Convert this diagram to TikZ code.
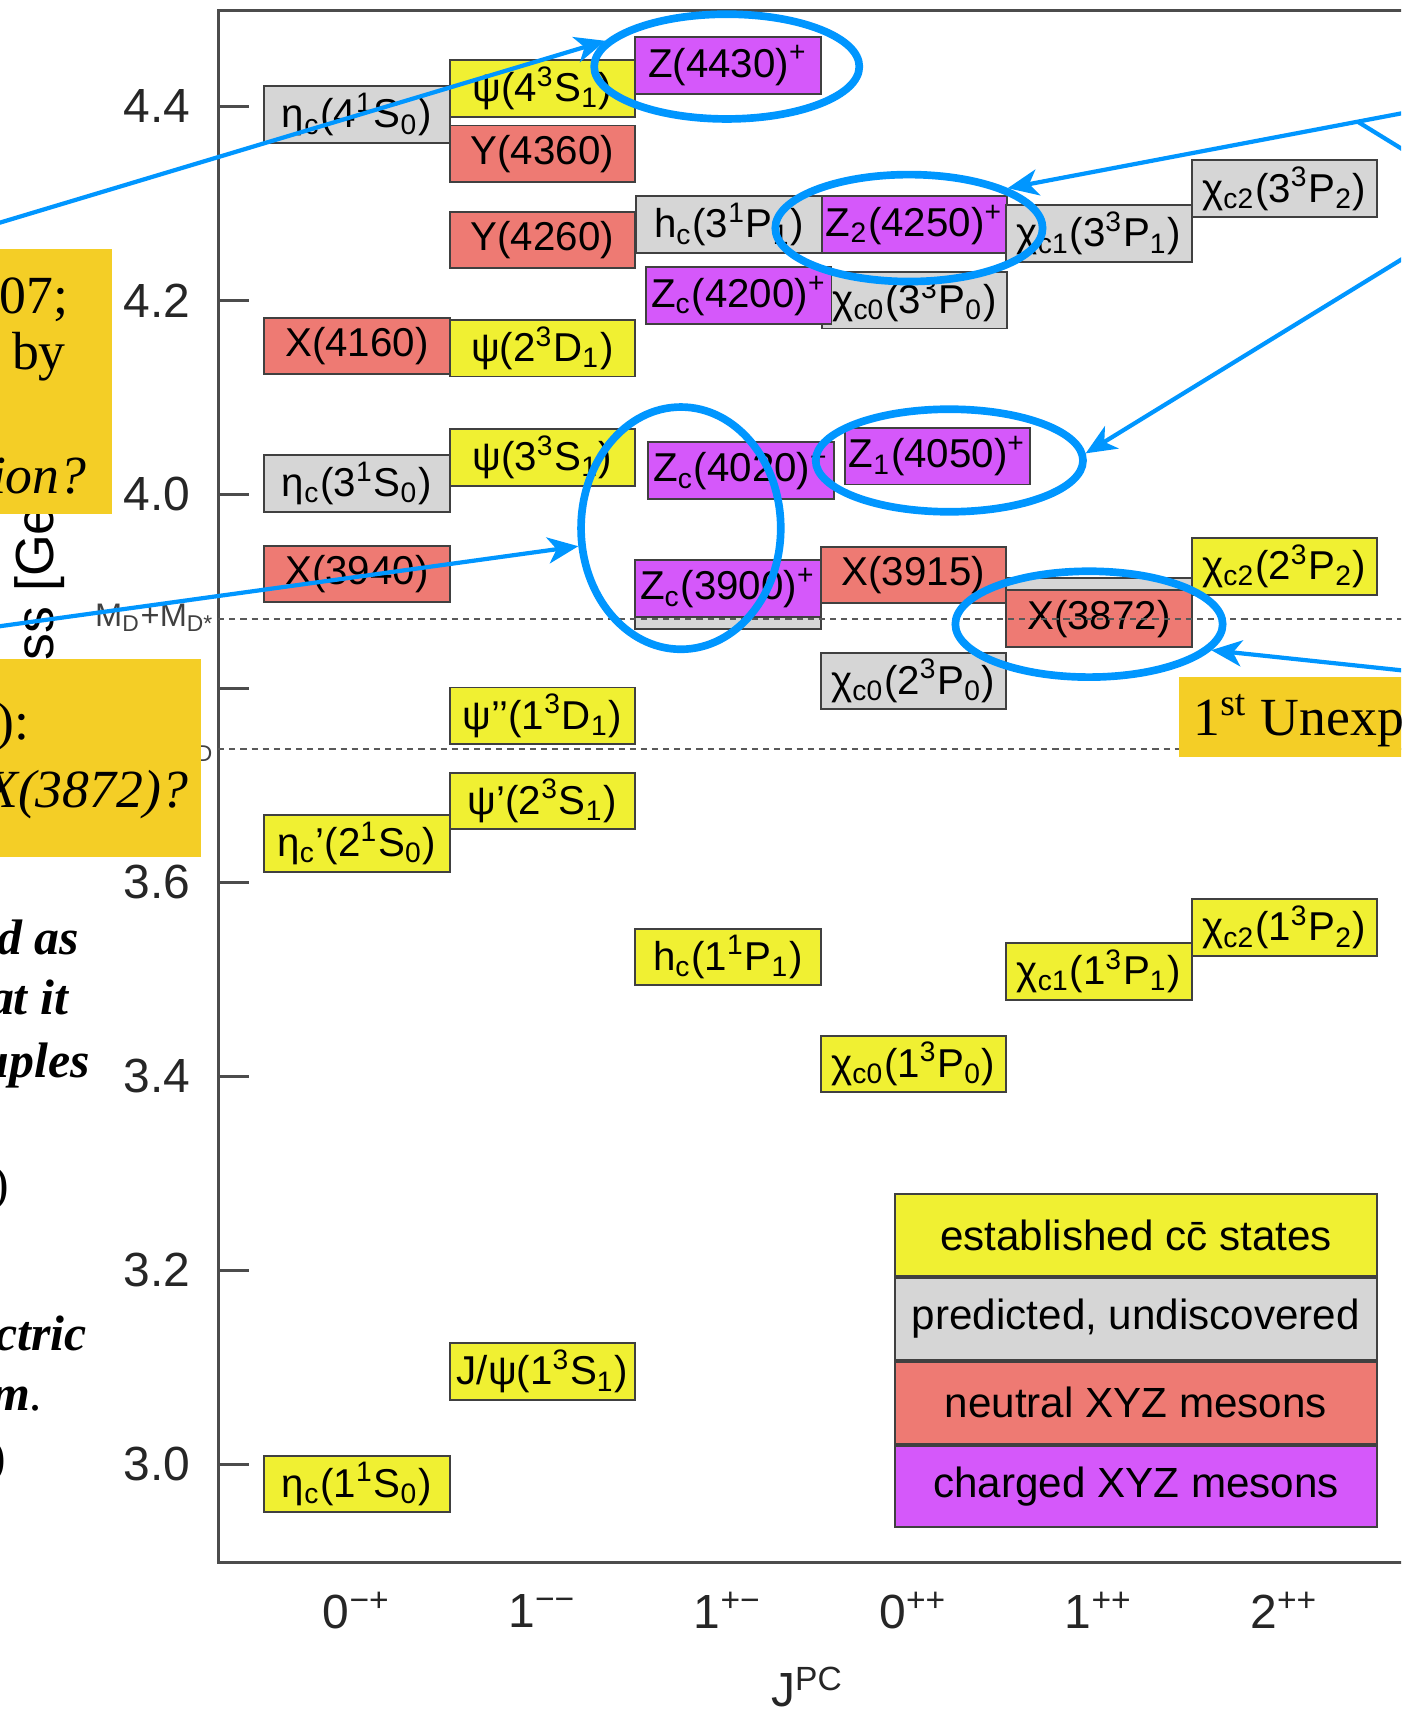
\documentclass[tikz,border=0pt]{standalone}
\usepackage{fontspec}
\setmainfont{Liberation Sans}
\newfontfamily\tnr{Liberation Serif}
\usetikzlibrary{shapes.geometric,arrows.meta,positioning}

\definecolor{estc}{RGB}{240,240,50}
\definecolor{predc}{RGB}{214,214,214}
\definecolor{neutc}{RGB}{238,122,115}
\definecolor{chargc}{RGB}{213,88,250}
\definecolor{notec}{RGB}{244,206,38}
\definecolor{ringc}{RGB}{0,150,255}

\newcommand{\supc}[1]{\textsuperscript{#1}}
\newcommand{\subc}[1]{\textsubscript{#1}}

\tikzset{
  meson/.style={draw=black!75, line width=0.5pt, minimum width=17mm, minimum height=5.2mm,
    inner sep=0pt, font=\fontsize{10.5}{12}\selectfont},
  est/.style={meson, fill=estc},
  pred/.style={meson, fill=predc},
  neut/.style={meson, fill=neutc},
  charg/.style={meson, fill=chargc},
  legbox/.style={draw=black!75, line width=0.5pt, minimum width=44.2mm, minimum height=7.5mm,
    inner sep=0pt, font=\fontsize{11}{13}\selectfont},
  frame/.style={draw=black!70, line width=0.8pt},
  ticklabel/.style={text=black!85, inner sep=0pt, font=\fontsize{12.5}{14}\selectfont},
  dotline/.style={draw=black!65, line width=0.5pt, dash pattern=on 1.6pt off 1.3pt},
  thrlabel/.style={text=black!75, inner sep=0pt, font=\fontsize{8.5}{10}\selectfont},
  ring/.style={ellipse, draw=ringc, line width=2pt, inner sep=0pt},
  wire/.style={draw=ringc, line width=1.1pt},
  pointer/.style={wire, -{Stealth[length=2.8mm, width=2.4mm, inset=0.8mm]}},
  notebox/.style={fill=notec},
  notetext/.style={inner sep=0pt, font=\tnr\fontsize{14}{17}\selectfont},
  sidetext/.style={inner sep=0pt, font=\tnr\bfseries\itshape\fontsize{13}{16}\selectfont},
}

\begin{document}
\begin{tikzpicture}[x=0.1mm, y=-0.1mm]
    % Page
    \useasboundingbox (0,0) rectangle (1284,1568);
    \clip (0,0) rectangle (1284,1568);
    \fill[white] (0,0) rectangle (1284,1568);

    % Axes
    \node[rotate=90, font=\fontsize{14}{16}\selectfont] (masstitle) at (36,545) {Mass [GeV]};
    \draw[frame] (1300,10) -- (200,10) -- (200,1432) -- (1300,1432);
    \foreach \m [count=\i] in {3.0,3.2,3.4,3.6,3.8,4.0,4.2,4.4} {
        \pgfmathsetmacro{\ypos}{1342-(\m-3)*889}
        \draw[frame] (200,\ypos) -- (228,\ypos);
        \node[ticklabel, anchor=east] (tick\i) at (175,\ypos) {\m};
    }

    % States, column 0-+
    \node[pred] (etacD) at (327,105) {η\subc{c}(4\supc{1}S\subc{0})};
    \node[neut] (xA) at (327,317) {X(4160)};
    \node[pred] (etacC) at (327,443) {η\subc{c}(3\supc{1}S\subc{0})};
    \node[neut] (xB) at (327,526) {X(3940)};
    \node[est] (etacB) at (327,773) {η\subc{c}’(2\supc{1}S\subc{0})};
    \node[est] (etacA) at (327,1360) {η\subc{c}(1\supc{1}S\subc{0})};

    % States, column 1--
    \node[est] (psiD) at (497,81) {ψ(4\supc{3}S\subc{1})};
    \node[neut] (yB) at (497,141) {Y(4360)};
    \node[neut] (yA) at (497,220) {Y(4260)};
    \node[est] (psiE) at (497,319) {ψ(2\supc{3}D\subc{1})};
    \node[est] (psiC) at (497,419) {ψ(3\supc{3}S\subc{1})};
    \node[est] (psiF) at (497,656) {ψ’’(1\supc{3}D\subc{1})};
    \node[est] (psiB) at (497,734) {ψ’(2\supc{3}S\subc{1})};
    \node[est] (jpsi) at (497,1257) {J/ψ(1\supc{3}S\subc{1})};

    % States, column 1+- and 0++
    \node[charg] (zE) at (667,60) {Z(4430)\supc{+}};
    \node[pred] (hcC) at (668,206) {h\subc{c}(3\supc{1}P\subc{1})};
    \node[charg] (zD) at (838,206) {Z\subc{2}(4250)\supc{+}};
    \node[pred] (chizC) at (838,275) {χ\subc{c0}(3\supc{3}P\subc{0})};
    \node[charg] (zC) at (677,271) {Z\subc{c}(4200)\supc{+}};
    \node[charg] (zB) at (679,431) {Z\subc{c}(4020)\supc{+}};
    \node[charg] (zF) at (859,418) {Z\subc{1}(4050)\supc{+}};
    \node[pred] (hcB) at (667,550) {};
    \node[charg] (zA) at (667,539) {Z\subc{c}(3900)\supc{+}};
    \node[neut] (xC) at (837,527) {X(3915)};
    \node[pred] (chizB) at (837,624) {χ\subc{c0}(2\supc{3}P\subc{0})};
    \node[est] (hcA) at (667,877) {h\subc{c}(1\supc{1}P\subc{1})};
    \node[est] (chizA) at (837,975) {χ\subc{c0}(1\supc{3}P\subc{0})};

    % States, column 1++ and 2++
    \node[pred] (chioC) at (1007,214) {χ\subc{c1}(3\supc{3}P\subc{1})};
    \node[pred] (chioB) at (1007,556) {};
    \node[neut] (xD) at (1007,567) {X(3872)};
    \node[est] (chioA) at (1007,890) {χ\subc{c1}(1\supc{3}P\subc{1})};
    \node[pred] (chitC) at (1177,173) {χ\subc{c2}(3\supc{3}P\subc{2})};
    \node[est] (chitB) at (1177,519) {χ\subc{c2}(2\supc{3}P\subc{2})};
    \node[est] (chitA) at (1177,850) {χ\subc{c2}(1\supc{3}P\subc{2})};

    % Thresholds
    \draw[dotline] (200,567) -- (1300,567);
    \draw[dotline] (200,686) -- (1300,686);
    \node[thrlabel, anchor=base east] (thrA) at (197,574) {M\subc{D}+M\subc{D*}};
    \node[thrlabel, anchor=base east] (thrB) at (197,693) {M\subc{D}+M\subc{D}};

    % Legend
    \node[legbox, fill=estc] (legEst) at (1041,1132) {established c\=c states};
    \node[legbox, fill=predc, below=0pt of legEst] (legPred) {predicted, undiscovered};
    \node[legbox, fill=neutc, below=0pt of legPred] (legNeut) {neutral XYZ mesons};
    \node[legbox, fill=chargc, below=0pt of legNeut] (legCharg) {charged XYZ mesons};

    % Quantum numbers
    \foreach \x/\lab [count=\i] in {327/0\supc{−+}, 497/1\supc{−−}, 667/1\supc{+−},
                                    837/0\supc{++}, 1007/1\supc{++}, 1177/2\supc{++}} {
        \node[ticklabel] (jpc\i) at (\x,1476) {\lab};
    }
    \node[ticklabel] (jpctitle) at (740,1546) {J\supc{PC}};

    % Highlights
    \node[ring, minimum width=24.3mm, minimum height=9.6mm] (ringA) at (666,61) {};
    \node[ring, minimum width=24.5mm, minimum height=9.8mm] (ringB) at (833,209) {};
    \node[ring, minimum width=18.3mm, minimum height=22.2mm] (ringC) at (624,484) {};
    \node[ring, minimum width=24.5mm, minimum height=9.4mm] (ringD) at (870,422) {};
    \node[ring, minimum width=24.5mm, minimum height=9.7mm] (ringE) at (998,572) {};

    % Pointers
    \coordinate (srcA) at (-30,213);
    \coordinate (srcC) at (-30,578);
    \coordinate (srcB) at (1310,99);
    \coordinate (forkB) at (1245,112);
    \coordinate (srcF) at (1310,152);
    \coordinate (srcD) at (1310,222);
    \coordinate (srcE) at (1310,617);
    \draw[pointer] (srcA) -- (ringA.168);
    \draw[pointer] (srcC) -- (ringC.190);
    \draw[pointer] (srcB) -- (ringB.22);
    \draw[wire] (forkB) -- (srcF);
    \draw[pointer] (srcD) -- (ringD.3);
    \draw[pointer] (srcE) -- (ringE.348);

    % Notes
    \fill[notebox] (-5,228) rectangle (103,471);
    \fill[notebox] (-5,604) rectangle (184,785);
    \fill[notebox] (1080,620) rectangle (1300,694);
    \node[notetext, anchor=base east] (noteA) at (63,287) {07;};
    \node[notetext, anchor=base east] (noteB) at (61,339) {d by};
    \node[notetext, anchor=base east] (noteC) at (80,452) {\itshape ion?};
    \node[notetext, anchor=base east] (noteD) at (28,678) {):};
    \node[notetext, anchor=base east] (noteE) at (173,740) {\itshape X(3872)?};
    \node[notetext, anchor=base west] (noteF) at (1093,674) {1\supc{st} Unexpe};

    % Side text
    \node[sidetext, anchor=base east] (sideA) at (73,875) {d as};
    \node[sidetext, anchor=base east] (sideB) at (63,930) {at it};
    \node[sidetext, anchor=base east] (sideC) at (83,987) {uples};
    \node[sidetext, anchor=base east] (sideD) at (9,1100) {\mdseries\upshape)};
    \node[sidetext, anchor=base east] (sideE) at (80,1238) {ctric};
    \node[sidetext, anchor=base east] (sideF) at (40,1293) {m\mdseries.};
    \node[sidetext, anchor=base east] (sideG) at (6,1350) {\mdseries\upshape)};
\end{tikzpicture}
\end{document}
